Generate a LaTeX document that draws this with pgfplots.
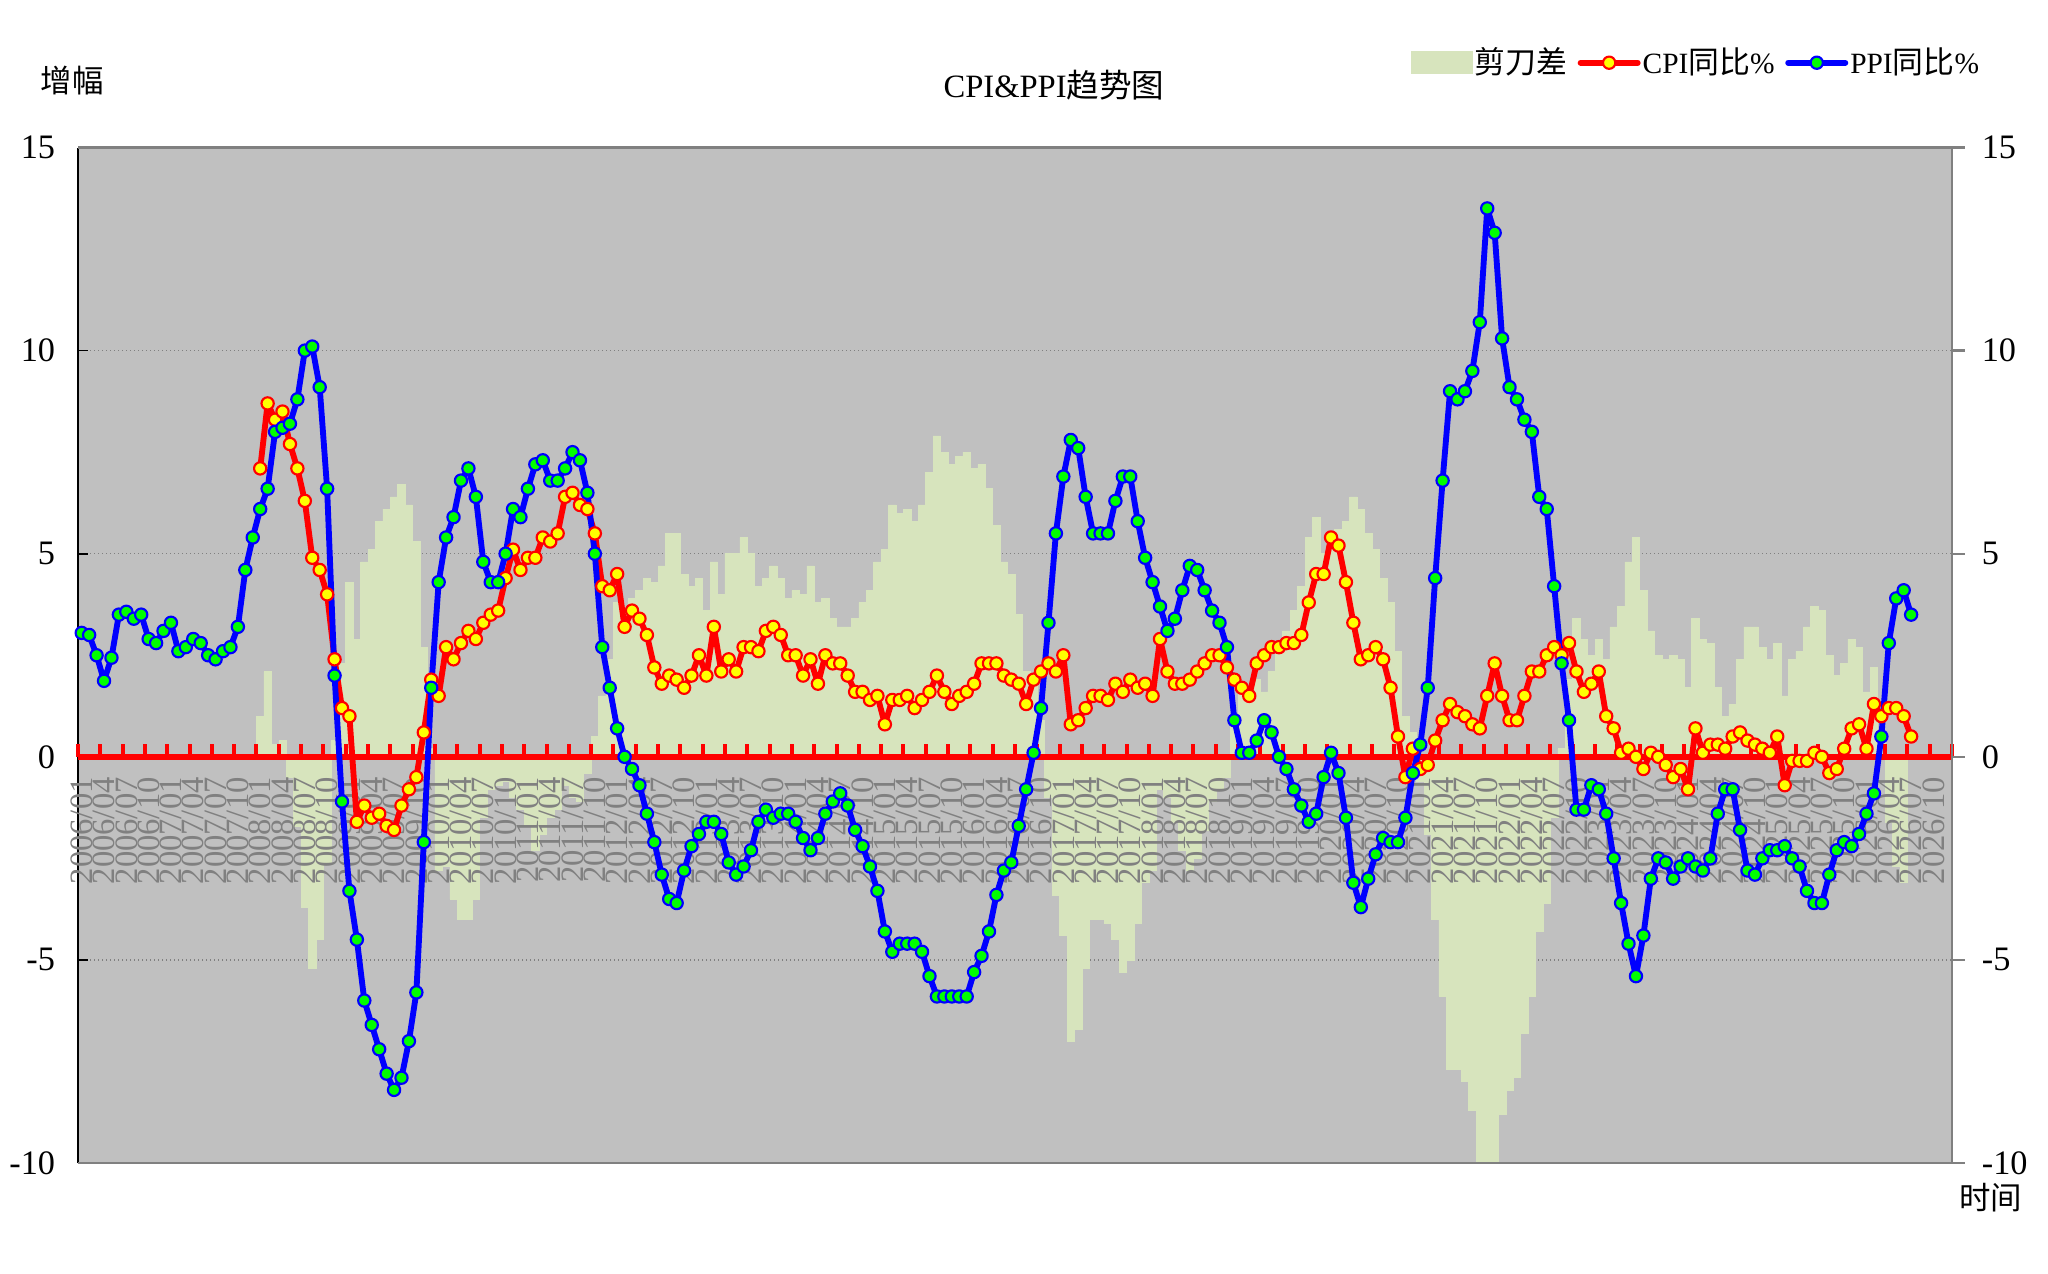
\documentclass[border=0pt]{standalone}
\usepackage{fontspec}
\setmainfont{Liberation Serif}
\newfontfamily\cjk{Noto Sans CJK SC}
\usepackage{pgfplots}
\usepackage{pgfplotstable}
\pgfplotsset{compat=1.18}

\definecolor{plotbg}{HTML}{C0C0C0}
\definecolor{gapgreen}{HTML}{D7E4BD}
\definecolor{framegray}{HTML}{808080}
\definecolor{cpiyellow}{HTML}{FFFF00}
\definecolor{ppigreen}{HTML}{00FF00}
\definecolor{ppiblue}{HTML}{0000FF}
\definecolor{cpired}{HTML}{FF0000}

\pgfplotsset{
  mylinelegend/.style={legend image code/.code={\draw[mark repeat=2,mark phase=2,##1] plot coordinates {(0pt,0pt)(10pt,0pt)(20pt,0pt)};}},
}

% PPI YoY, monthly from 2006/01
\pgfplotstableread[row sep=\\]{
v\\
3.05\\ 3.0\\ 2.5\\ 1.87\\ 2.44\\ 3.5\\ 3.57\\ 3.4\\ 3.5\\ 2.9\\ 2.8\\ 3.1\\
3.3\\ 2.6\\ 2.7\\ 2.9\\ 2.8\\ 2.5\\ 2.4\\ 2.6\\ 2.7\\ 3.2\\ 4.6\\ 5.4\\
6.1\\ 6.6\\ 8.0\\ 8.1\\ 8.2\\ 8.8\\ 10.0\\ 10.1\\ 9.1\\ 6.6\\ 2.0\\ -1.1\\
-3.3\\ -4.5\\ -6.0\\ -6.6\\ -7.2\\ -7.8\\ -8.2\\ -7.9\\ -7.0\\ -5.8\\ -2.1\\ 1.7\\
4.3\\ 5.4\\ 5.9\\ 6.8\\ 7.1\\ 6.4\\ 4.8\\ 4.3\\ 4.3\\ 5.0\\ 6.1\\ 5.9\\
6.6\\ 7.2\\ 7.3\\ 6.8\\ 6.8\\ 7.1\\ 7.5\\ 7.3\\ 6.5\\ 5.0\\ 2.7\\ 1.7\\
0.7\\ 0.0\\ -0.3\\ -0.7\\ -1.4\\ -2.1\\ -2.9\\ -3.5\\ -3.6\\ -2.8\\ -2.2\\ -1.9\\
-1.6\\ -1.6\\ -1.9\\ -2.6\\ -2.9\\ -2.7\\ -2.3\\ -1.6\\ -1.3\\ -1.5\\ -1.4\\ -1.4\\
-1.6\\ -2.0\\ -2.3\\ -2.0\\ -1.4\\ -1.1\\ -0.9\\ -1.2\\ -1.8\\ -2.2\\ -2.7\\ -3.3\\
-4.3\\ -4.8\\ -4.6\\ -4.6\\ -4.6\\ -4.8\\ -5.4\\ -5.9\\ -5.9\\ -5.9\\ -5.9\\ -5.9\\
-5.3\\ -4.9\\ -4.3\\ -3.4\\ -2.8\\ -2.6\\ -1.7\\ -0.8\\ 0.1\\ 1.2\\ 3.3\\ 5.5\\
6.9\\ 7.8\\ 7.6\\ 6.4\\ 5.5\\ 5.5\\ 5.5\\ 6.3\\ 6.9\\ 6.9\\ 5.8\\ 4.9\\
4.3\\ 3.7\\ 3.1\\ 3.4\\ 4.1\\ 4.7\\ 4.6\\ 4.1\\ 3.6\\ 3.3\\ 2.7\\ 0.9\\
0.1\\ 0.1\\ 0.4\\ 0.9\\ 0.6\\ 0.0\\ -0.3\\ -0.8\\ -1.2\\ -1.6\\ -1.4\\ -0.5\\
0.1\\ -0.4\\ -1.5\\ -3.1\\ -3.7\\ -3.0\\ -2.4\\ -2.0\\ -2.1\\ -2.1\\ -1.5\\ -0.4\\
0.3\\ 1.7\\ 4.4\\ 6.8\\ 9.0\\ 8.8\\ 9.0\\ 9.5\\ 10.7\\ 13.5\\ 12.9\\ 10.3\\
9.1\\ 8.8\\ 8.3\\ 8.0\\ 6.4\\ 6.1\\ 4.2\\ 2.3\\ 0.9\\ -1.3\\ -1.3\\ -0.7\\
-0.8\\ -1.4\\ -2.5\\ -3.6\\ -4.6\\ -5.4\\ -4.4\\ -3.0\\ -2.5\\ -2.6\\ -3.0\\ -2.7\\
-2.5\\ -2.7\\ -2.8\\ -2.5\\ -1.4\\ -0.8\\ -0.8\\ -1.8\\ -2.8\\ -2.9\\ -2.5\\ -2.3\\
-2.3\\ -2.2\\ -2.5\\ -2.7\\ -3.3\\ -3.6\\ -3.6\\ -2.9\\ -2.3\\ -2.1\\ -2.2\\ -1.9\\
-1.4\\ -0.9\\ 0.5\\ 2.8\\ 3.9\\ 4.1\\ 3.5\\
}\ppitab

% CPI YoY, monthly from 2008/01
\pgfplotstableread[row sep=\\]{
v\\
7.1\\ 8.7\\ 8.3\\ 8.5\\ 7.7\\ 7.1\\ 6.3\\ 4.9\\ 4.6\\ 4.0\\ 2.4\\ 1.2\\
1.0\\ -1.6\\ -1.2\\ -1.5\\ -1.4\\ -1.7\\ -1.8\\ -1.2\\ -0.8\\ -0.5\\ 0.6\\ 1.9\\
1.5\\ 2.7\\ 2.4\\ 2.8\\ 3.1\\ 2.9\\ 3.3\\ 3.5\\ 3.6\\ 4.4\\ 5.1\\ 4.6\\
4.9\\ 4.9\\ 5.4\\ 5.3\\ 5.5\\ 6.4\\ 6.5\\ 6.2\\ 6.1\\ 5.5\\ 4.2\\ 4.1\\
4.5\\ 3.2\\ 3.6\\ 3.4\\ 3.0\\ 2.2\\ 1.8\\ 2.0\\ 1.9\\ 1.7\\ 2.0\\ 2.5\\
2.0\\ 3.2\\ 2.1\\ 2.4\\ 2.1\\ 2.7\\ 2.7\\ 2.6\\ 3.1\\ 3.2\\ 3.0\\ 2.5\\
2.5\\ 2.0\\ 2.4\\ 1.8\\ 2.5\\ 2.3\\ 2.3\\ 2.0\\ 1.6\\ 1.6\\ 1.4\\ 1.5\\
0.8\\ 1.4\\ 1.4\\ 1.5\\ 1.2\\ 1.4\\ 1.6\\ 2.0\\ 1.6\\ 1.3\\ 1.5\\ 1.6\\
1.8\\ 2.3\\ 2.3\\ 2.3\\ 2.0\\ 1.9\\ 1.8\\ 1.3\\ 1.9\\ 2.1\\ 2.3\\ 2.1\\
2.5\\ 0.8\\ 0.9\\ 1.2\\ 1.5\\ 1.5\\ 1.4\\ 1.8\\ 1.6\\ 1.9\\ 1.7\\ 1.8\\
1.5\\ 2.9\\ 2.1\\ 1.8\\ 1.8\\ 1.9\\ 2.1\\ 2.3\\ 2.5\\ 2.5\\ 2.2\\ 1.9\\
1.7\\ 1.5\\ 2.3\\ 2.5\\ 2.7\\ 2.7\\ 2.8\\ 2.8\\ 3.0\\ 3.8\\ 4.5\\ 4.5\\
5.4\\ 5.2\\ 4.3\\ 3.3\\ 2.4\\ 2.5\\ 2.7\\ 2.4\\ 1.7\\ 0.5\\ -0.5\\ 0.2\\
-0.3\\ -0.2\\ 0.4\\ 0.9\\ 1.3\\ 1.1\\ 1.0\\ 0.8\\ 0.7\\ 1.5\\ 2.3\\ 1.5\\
0.9\\ 0.9\\ 1.5\\ 2.1\\ 2.1\\ 2.5\\ 2.7\\ 2.5\\ 2.8\\ 2.1\\ 1.6\\ 1.8\\
2.1\\ 1.0\\ 0.7\\ 0.1\\ 0.2\\ 0.0\\ -0.3\\ 0.1\\ 0.0\\ -0.2\\ -0.5\\ -0.3\\
-0.8\\ 0.7\\ 0.1\\ 0.3\\ 0.3\\ 0.2\\ 0.5\\ 0.6\\ 0.4\\ 0.3\\ 0.2\\ 0.1\\
0.5\\ -0.7\\ -0.1\\ -0.1\\ -0.1\\ 0.1\\ 0.0\\ -0.4\\ -0.3\\ 0.2\\ 0.7\\ 0.8\\
0.2\\ 1.3\\ 1.0\\ 1.2\\ 1.2\\ 1.0\\ 0.5\\
}\cpitab

% scissors gap (CPI - PPI), monthly from 2008/01
\pgfplotstableread[row sep=\\]{
v\\
1.0\\ 2.1\\ 0.3\\ 0.4\\ -0.5\\ -1.7\\ -3.7\\ -5.2\\ -4.5\\ -2.6\\ 0.4\\ 2.3\\
4.3\\ 2.9\\ 4.8\\ 5.1\\ 5.8\\ 6.1\\ 6.4\\ 6.7\\ 6.2\\ 5.3\\ 2.7\\ 0.2\\
-2.8\\ -2.7\\ -3.5\\ -4.0\\ -4.0\\ -3.5\\ -1.5\\ -0.8\\ -0.7\\ -0.6\\ -1.0\\ -1.3\\
-1.7\\ -2.3\\ -1.9\\ -1.5\\ -1.3\\ -0.7\\ -1.0\\ -1.1\\ -0.4\\ 0.5\\ 1.5\\ 2.4\\
3.8\\ 3.2\\ 3.9\\ 4.1\\ 4.4\\ 4.3\\ 4.7\\ 5.5\\ 5.5\\ 4.5\\ 4.2\\ 4.4\\
3.6\\ 4.8\\ 4.0\\ 5.0\\ 5.0\\ 5.4\\ 5.0\\ 4.2\\ 4.4\\ 4.7\\ 4.4\\ 3.9\\
4.1\\ 4.0\\ 4.7\\ 3.8\\ 3.9\\ 3.4\\ 3.2\\ 3.2\\ 3.4\\ 3.8\\ 4.1\\ 4.8\\
5.1\\ 6.2\\ 6.0\\ 6.1\\ 5.8\\ 6.2\\ 7.0\\ 7.9\\ 7.5\\ 7.2\\ 7.4\\ 7.5\\
7.1\\ 7.2\\ 6.6\\ 5.7\\ 4.8\\ 4.5\\ 3.5\\ 2.1\\ 1.8\\ 0.9\\ -1.0\\ -3.4\\
-4.4\\ -7.0\\ -6.7\\ -5.2\\ -4.0\\ -4.0\\ -4.1\\ -4.5\\ -5.3\\ -5.0\\ -4.1\\ -3.1\\
-2.8\\ -0.8\\ -1.0\\ -1.6\\ -2.3\\ -2.8\\ -2.5\\ -1.8\\ -1.1\\ -0.8\\ -0.5\\ 1.0\\
1.6\\ 1.4\\ 1.9\\ 1.6\\ 2.1\\ 2.7\\ 3.1\\ 3.6\\ 4.2\\ 5.4\\ 5.9\\ 5.0\\
5.3\\ 5.6\\ 5.8\\ 6.4\\ 6.1\\ 5.5\\ 5.1\\ 4.4\\ 3.8\\ 2.6\\ 1.0\\ 0.6\\
-0.6\\ -1.9\\ -4.0\\ -5.9\\ -7.7\\ -7.7\\ -8.0\\ -8.7\\ -10.0\\ -12.0\\ -10.6\\ -8.8\\
-8.2\\ -7.9\\ -6.8\\ -5.9\\ -4.3\\ -3.6\\ -1.5\\ 0.2\\ 1.9\\ 3.4\\ 2.9\\ 2.5\\
2.9\\ 2.4\\ 3.2\\ 3.7\\ 4.8\\ 5.4\\ 4.1\\ 3.1\\ 2.5\\ 2.4\\ 2.5\\ 2.4\\
1.7\\ 3.4\\ 2.9\\ 2.8\\ 1.7\\ 1.0\\ 1.3\\ 2.4\\ 3.2\\ 3.2\\ 2.7\\ 2.4\\
2.8\\ 1.5\\ 2.4\\ 2.6\\ 3.2\\ 3.7\\ 3.6\\ 2.5\\ 2.0\\ 2.3\\ 2.9\\ 2.7\\
1.6\\ 2.2\\ 0.5\\ -1.6\\ -2.7\\ -3.1\\
}\gaptab

\begin{document}
\begin{tikzpicture}
\useasboundingbox (-27.3pt,-38.5pt) rectangle (689.5pt,407.05pt);
% ---- axis 1: background, grid, gap bars, left y axis
\begin{axis}[
  at={(0pt,0pt)}, anchor=south west,
  width=655.9pt, height=355.425pt, scale only axis,
  xmin=-0.5, xmax=251.5, ymin=-10, ymax=15,
  axis background/.style={fill=plotbg},
  axis x line=none,
  axis y line*=left,
  y axis line style={-, black, line width=0.6pt},
  ytick={-10,-5,...,15},
  ytick align=inside,
  major tick length=3.5pt,
  ytick style={black, line width=0.6pt},
  ymajorgrids,
  grid style={densely dotted, framegray, line width=0.5pt},
  yticklabel style={font=\fontsize{12}{14}\selectfont, xshift=-4.5pt},
  /pgf/number format/assume math mode=true,
]
\addplot[ybar, bar width=1, bar shift=0pt, fill=gapgreen, draw=gapgreen, line width=0.2pt]
  table[x expr=\coordindex+24, y=v] \gaptab;
\end{axis}
% ---- axis 2: red zero axis, right y axis, lines, legend
\begin{axis}[
  at={(0pt,0pt)}, anchor=south west,
  width=655.9pt, height=355.425pt, scale only axis,
  xmin=-0.5, xmax=251.5, ymin=-10, ymax=15,
  clip=false,
  axis x line*=middle,
  x axis line style={-, cpired, line width=2.3pt},
  xtick={-0.5,2.5,...,251.5},
  xtick align=inside,
  hide obscured x ticks=false,
  xtick style={cpired, line width=1.4pt},
  xticklabel={\pgfmathtruncatemacro{\myidx}{round(\tick+0.5)}\ifnum\myidx>249\relax\else\pgfmathtruncatemacro{\myyr}{2006+floor(\myidx/12)}\pgfmathtruncatemacro{\mymo}{mod(\myidx,12)+1}\myyr/\ifnum\mymo<10 0\fi\mymo\fi},
  xticklabel style={font=\fontsize{11.4}{12}\selectfont, text=framegray, xshift=1.3pt, yshift=-7pt, rotate=90, anchor=east, inner sep=0pt},
  axis y line*=right,
  y axis line style={-, framegray, line width=1pt},
  ytick={-10,-5,...,15},
  ytick align=outside,
  ytick style={framegray, line width=0.8pt},
  major tick length=4.4pt,
  yticklabel style={font=\fontsize{12}{14}\selectfont, anchor=west, xshift=2.5pt},
  /pgf/number format/assume math mode=true,
  legend columns=3,
  legend style={draw=none, fill=none, inner sep=0pt, outer sep=0pt,
    at={(0.8635,1.0835)}, anchor=center,
    font=\fontsize{10.3}{12}\selectfont,
    nodes={inner sep=0.7pt},
    /tikz/every even column/.append style={column sep=3pt}},
]
\draw[framegray, line width=1pt] (rel axis cs:0,1) -- (rel axis cs:1,1) (rel axis cs:0,0) -- (rel axis cs:1,0);
\addlegendimage{legend image code/.code={\fill[gapgreen] (0pt,-3.9pt) rectangle (21pt,3.9pt);}}
\addlegendentry{{\cjk\fontsize{10.8}{12}\selectfont 剪刀差}}
\addplot[cpired, line width=2.05pt, line join=round, line cap=round, mark=*, mark size=2.15pt,
  mark options={solid, fill=cpiyellow, draw=cpired, line width=0.75pt}, mylinelegend]
  table[x expr=\coordindex+24, y=v] \cpitab;
\addlegendentry{CPI{\cjk\fontsize{10.8}{12}\selectfont 同比}\%}
\addplot[ppiblue, line width=2.05pt, line join=round, line cap=round, mark=*, mark size=2.15pt,
  mark options={solid, fill=ppigreen, draw=ppiblue, line width=0.75pt}, mylinelegend]
  table[x expr=\coordindex, y=v] \ppitab;
\addlegendentry{PPI{\cjk\fontsize{10.8}{12}\selectfont 同比}\%}
\end{axis}
\node[font=\cjk\fontsize{11}{13}\selectfont] at (-2.1pt,379pt) {增幅};
\node[font=\fontsize{11.4}{13}\selectfont] at (341.6pt,377.3pt) {CPI\&PPI{\cjk 趋势图}};
\node[font=\cjk\fontsize{11}{13}\selectfont] at (669.5pt,-12.1pt) {时间};
\end{tikzpicture}
\end{document}
